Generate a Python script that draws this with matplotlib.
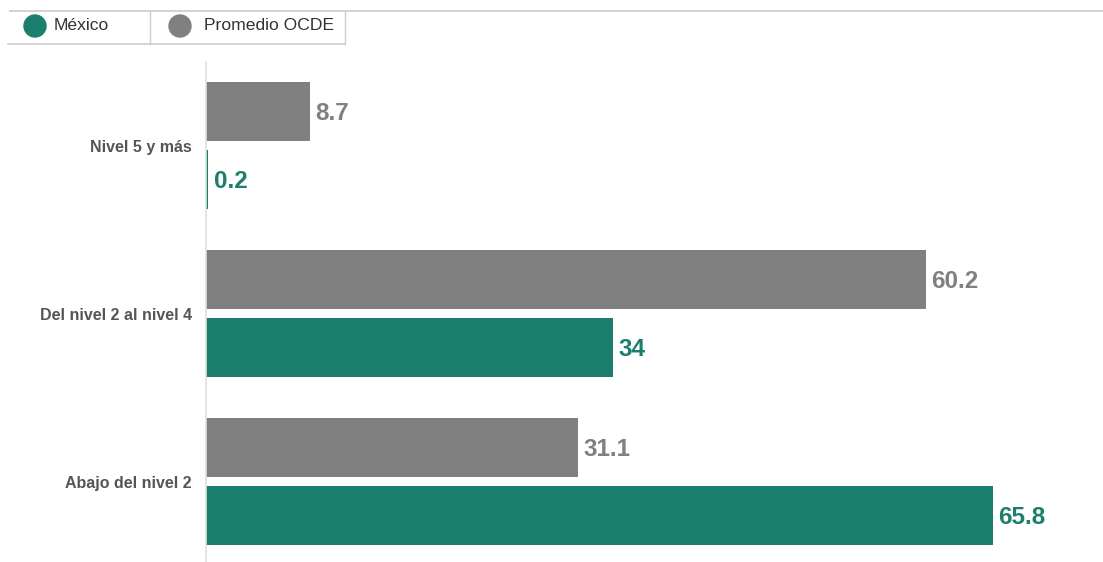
import matplotlib
matplotlib.use("Agg")
import matplotlib.pyplot as plt
from matplotlib.lines import Line2D
from matplotlib.patches import Circle
import numpy as np

plt.rcParams["font.family"] = ["Liberation Sans", "DejaVu Sans"]

categories = ["Nivel 5 y más", "Del nivel 2 al nivel 4", "Abajo del nivel 2"]
mexico = [0.2, 34, 65.8]
ocde = [8.7, 60.2, 31.1]
mexico_labels = ["0.2", "34", "65.8"]
ocde_labels = ["8.7", "60.2", "31.1"]

GREEN = "#1c7f6d"
GRAY = "#808080"

W, H = 1103, 562
fig = plt.figure(figsize=(W / 100, H / 100), dpi=100)


def fx(px):
    return px / W


def fy(py):
    return 1 - py / H


# axes placed in pixels: left 206, top 62, right edge of figure, bottom edge
ax = fig.add_axes([fx(206), 0, 1 - fx(206), fy(62)])

y = np.arange(len(categories))
off = 0.2024
h = 0.351
ax.barh(y - off, ocde, height=h, color=GRAY)
ax.barh(y + off, mexico, height=h, color=GREEN)

for yi, v, lab in zip(y, ocde, ocde_labels):
    ax.annotate(lab, (v, yi - off), xytext=(4.0, -1.2), textcoords="offset points",
                va="center", ha="left", fontsize=17.5, fontweight="bold", color=GRAY)
for yi, v, lab in zip(y, mexico, mexico_labels):
    ax.annotate(lab, (v, yi + off), xytext=(4.0, -1.2), textcoords="offset points",
                va="center", ha="left", fontsize=17.5, fontweight="bold", color=GREEN)

ax.set_xlim(0, 75.0)
ax.set_ylim(2.479, -0.497)
ax.set_yticks(y)
ax.set_yticklabels(categories, fontsize=11.5, fontweight="bold", color="#555555")
ax.tick_params(axis="y", length=0, pad=10)
ax.set_xticks([])
for s in ["top", "right", "bottom"]:
    ax.spines[s].set_visible(False)
ax.spines["left"].set_color("#e0e0e0")
ax.spines["left"].set_linewidth(1.2)

# legend strip at the top
lc = "#cccccc"
fig.add_artist(Line2D([fx(10), 1], [fy(11), fy(11)], color=lc, lw=1.2))
fig.add_artist(Line2D([fx(8), fx(345)], [fy(44), fy(44)], color=lc, lw=1.2))
fig.add_artist(Line2D([fx(150), fx(150)], [fy(11), fy(44)], color=lc, lw=1.0))
fig.add_artist(Line2D([fx(345), fx(345)], [fy(11), fy(44)], color=lc, lw=1.0))

legend_items = [("México", GREEN, 35, 54), ("Promedio OCDE", GRAY, 180, 204)]
for name, col, cx, tx in legend_items:
    fig.add_artist(Circle((cx, H - 26), 11, transform=None, color=col))
    fig.text(fx(tx), fy(26), name, fontsize=12.6, color="#333333", va="center", ha="left")

fig.savefig("out.png", dpi=100)
